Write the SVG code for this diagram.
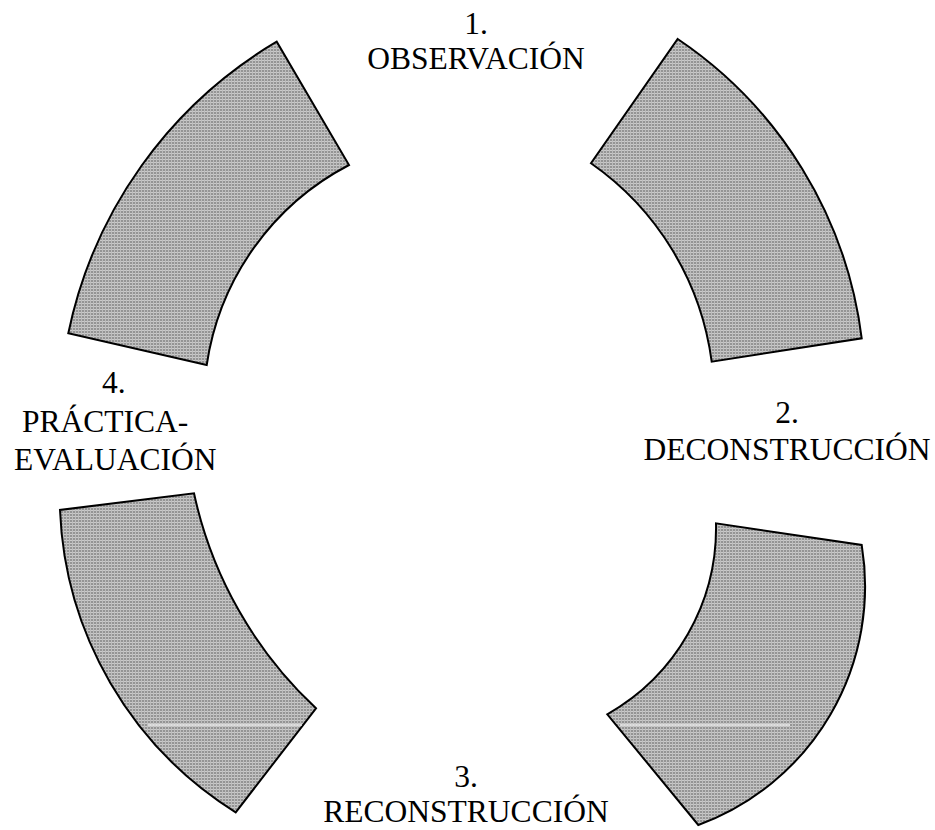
<svg xmlns="http://www.w3.org/2000/svg" width="935" height="830" viewBox="0 0 935 830">
  <defs>
    <pattern id="dots" width="3" height="3" patternUnits="userSpaceOnUse">
      <rect width="3" height="3" fill="#949494"/>
      <rect width="3" height="1" fill="#cacaca"/>
      <rect width="1" height="3" fill="#bcbcbc"/>
    </pattern>
  </defs>
  <style>
    .seg { fill: url(#dots); stroke: #000; stroke-width: 2; stroke-linejoin: miter; }
    .scan { stroke: #ececec; stroke-width: 1.5; fill: none; }
    .lbl { font-family: "Liberation Serif", "Times New Roman", serif; font-size: 31.5px; fill: #000; }
    .mid { text-anchor: middle; }
  </style>
  <rect width="935" height="830" fill="#fff"/>

  <g id="arc-observacion">
    <path class="seg" d="M 276.7 41.7 A 443 443 0 0 0 68.3 333.3 L 206.7 365 A 270 270 0 0 1 349 165 Z"/>
  </g>
  <g id="arc-deconstruccion">
    <path class="seg" d="M 677.7 39 A 424 424 0 0 1 861.7 338.3 L 711.7 361.7 A 288 288 0 0 0 591 163.3 Z"/>
  </g>
  <g id="arc-reconstruccion">
    <path class="seg" d="M 861.7 545 A 254 254 0 0 1 698.3 825 L 607.3 714.3 A 214 214 0 0 0 716 523.3 Z"/>
    <line class="scan" x1="620" y1="725" x2="790" y2="725"/>
  </g>
  <g id="arc-practica">
    <path class="seg" d="M 60 510 A 374 374 0 0 0 235.7 812.3 L 316 708.3 A 414 414 0 0 1 194 493.3 Z"/>
    <line class="scan" x1="148" y1="725" x2="302" y2="725"/>
  </g>

  <g id="label-1">
    <text class="lbl mid" x="476" y="34">1.</text>
    <text class="lbl mid" x="476" y="69">OBSERVACIÓN</text>
  </g>
  <g id="label-2">
    <text class="lbl mid" x="787" y="423">2.</text>
    <text class="lbl mid" x="787" y="460">DECONSTRUCCIÓN</text>
  </g>
  <g id="label-3">
    <text class="lbl mid" x="466" y="787">3.</text>
    <text class="lbl mid" x="466" y="822">RECONSTRUCCIÓN</text>
  </g>
  <g id="label-4">
    <text class="lbl" x="102" y="393">4.</text>
    <text class="lbl" x="22" y="432">PRÁCTICA-</text>
    <text class="lbl" x="14" y="470">EVALUACIÓN</text>
  </g>
</svg>
